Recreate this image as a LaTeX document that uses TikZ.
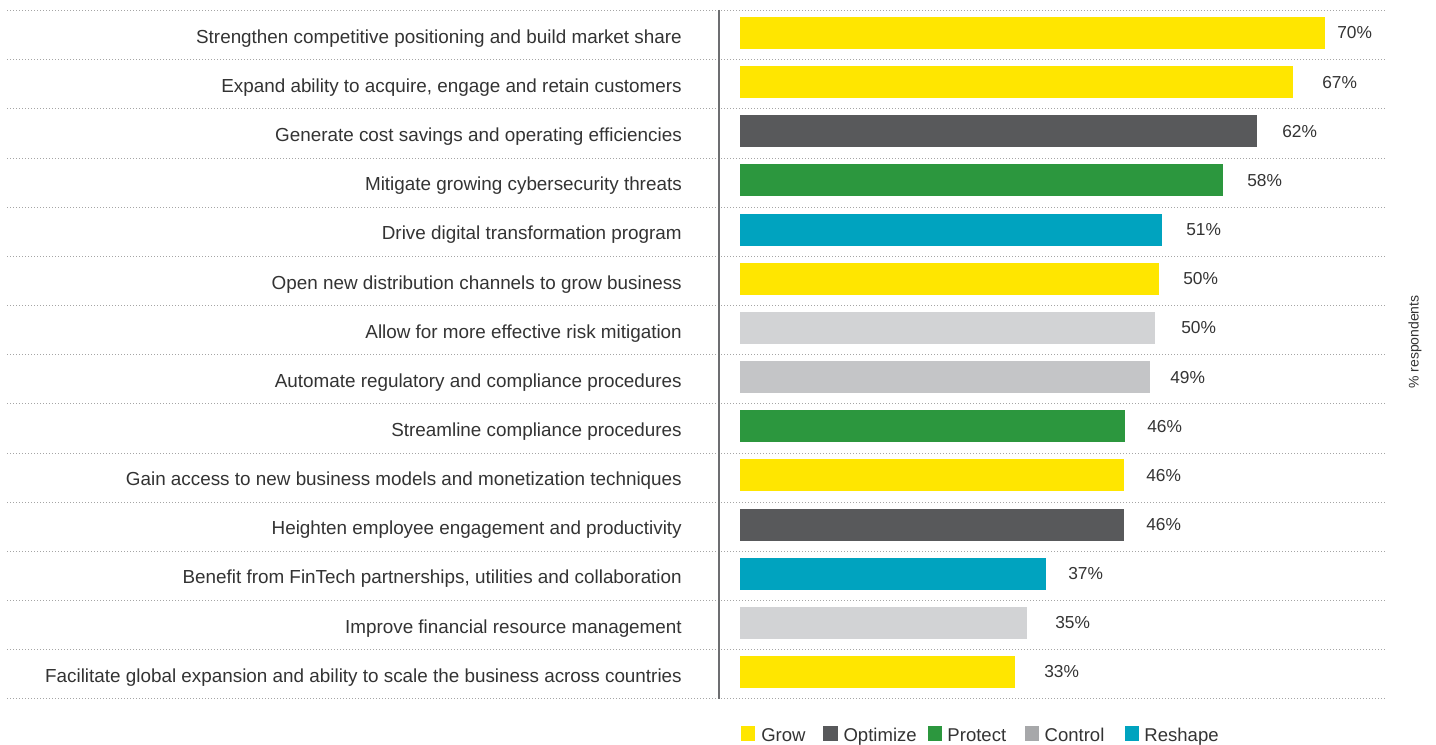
\documentclass[tikz,border=0pt]{standalone}
\usepackage{fontspec}
\setmainfont{Liberation Sans}
\usepackage{tikz}
\usetikzlibrary{calc}

\definecolor{eyyellow}{HTML}{FFE600}
\definecolor{eydark}{HTML}{58595B}
\definecolor{eygreen}{HTML}{2C973E}
\definecolor{eylight}{HTML}{D2D3D5}
\definecolor{eymid}{HTML}{C4C5C7}
\definecolor{eyswatch}{HTML}{A7A8AA}
\definecolor{eyteal}{HTML}{00A3BF}
\definecolor{eytext}{HTML}{333333}
\definecolor{eygrid}{HTML}{A5A5A5}
\definecolor{eyaxis}{HTML}{6D6E71}

\tikzset{
  rowlabel/.style={anchor=base east,inner sep=0pt,text=eytext,font=\fontsize{14.15}{17}\selectfont},
  pctlabel/.style={anchor=base west,inner sep=0pt,text=eytext,font=\fontsize{13}{16}\selectfont},
  leglabel/.style={anchor=base west,inner sep=0pt,text=eytext,font=\fontsize{13.9}{16}\selectfont},
  gridline/.style={draw=eygrid,line width=0.75pt,dash pattern=on 0.75pt off 1.5pt},
  axisline/.style={draw=eyaxis,line width=1.5pt}
}

\begin{document}
\begin{tikzpicture}[x=0.75pt,y=0.75pt,yscale=-1,xscale=1]
\useasboundingbox (0,0) rectangle (1436,745);

%Dotted grid lines
\foreach \k in {0,...,14}
  \draw [gridline] (7,10.7+49.15*\k) -- (1385,10.7+49.15*\k);

%Bars
\fill [eyyellow] (740,17) rectangle (1325,49);
\fill [eyyellow] (740,66.15) rectangle (1293,98.15);
\fill [eydark] (740,115.3) rectangle (1257,147.3);
\fill [eygreen] (740,164.45) rectangle (1223,196.45);
\fill [eyteal] (740,213.6) rectangle (1162,245.6);
\fill [eyyellow] (740,262.75) rectangle (1159,294.75);
\fill [eylight] (740,311.9) rectangle (1155,343.9);
\fill [eymid] (740,361.05) rectangle (1150,393.05);
\fill [eygreen] (740,410.2) rectangle (1125,442.2);
\fill [eyyellow] (740,459.35) rectangle (1124,491.35);
\fill [eydark] (740,508.5) rectangle (1124,540.5);
\fill [eyteal] (740,557.65) rectangle (1046,589.65);
\fill [eylight] (740,606.8) rectangle (1027,638.8);
\fill [eyyellow] (740,655.95) rectangle (1015,687.95);

%Axis line
\draw [axisline] (719,10) -- (719,699);

% Text Node: row labels
\node [rowlabel] (lbl1) at (682,43.3) {Strengthen competitive positioning and build market share};
\node [rowlabel] (lbl2) at (682,92.45) {Expand ability to acquire, engage and retain customers};
\node [rowlabel] (lbl3) at (682,141.6) {Generate cost savings and operating efficiencies};
\node [rowlabel] (lbl4) at (682,190.75) {Mitigate growing cybersecurity threats};
\node [rowlabel] (lbl5) at (682,239.9) {Drive digital transformation program};
\node [rowlabel] (lbl6) at (682,289.05) {Open new distribution channels to grow business};
\node [rowlabel] (lbl7) at (682,338.2) {Allow for more effective risk mitigation};
\node [rowlabel] (lbl8) at (682,387.35) {Automate regulatory and compliance procedures};
\node [rowlabel] (lbl9) at (682,436.5) {Streamline compliance procedures};
\node [rowlabel] (lbl10) at (682,485.65) {Gain access to new business models and monetization techniques};
\node [rowlabel] (lbl11) at (682,534.8) {Heighten employee engagement and productivity};
\node [rowlabel] (lbl12) at (682,583.95) {Benefit from FinTech partnerships, utilities and collaboration};
\node [rowlabel] (lbl13) at (682,633.1) {Improve financial resource management};
\node [rowlabel] (lbl14) at (682,682.25) {Facilitate global expansion and ability to scale the business across countries};

% Text Node: percentages
\node [pctlabel] (pct1) at (1337,39) {70\%};
\node [pctlabel] (pct2) at (1322,88.15) {67\%};
\node [pctlabel] (pct3) at (1282,137.3) {62\%};
\node [pctlabel] (pct4) at (1247,186.45) {58\%};
\node [pctlabel] (pct5) at (1186,235.6) {51\%};
\node [pctlabel] (pct6) at (1183,284.75) {50\%};
\node [pctlabel] (pct7) at (1181,333.9) {50\%};
\node [pctlabel] (pct8) at (1170,383.05) {49\%};
\node [pctlabel] (pct9) at (1147,432.2) {46\%};
\node [pctlabel] (pct10) at (1146,481.35) {46\%};
\node [pctlabel] (pct11) at (1146,530.5) {46\%};
\node [pctlabel] (pct12) at (1068,579.65) {37\%};
\node [pctlabel] (pct13) at (1055,628.8) {35\%};
\node [pctlabel] (pct14) at (1044,677.95) {33\%};

% Text Node: axis title
\node [rotate=90,inner sep=0pt,text=eytext,font=\fontsize{10.5}{12}\selectfont] (resp) at (1415,342) {\% respondents};

%Legend
\fill [eyyellow] (740.6,725.7) rectangle (755,741.2);
\node [leglabel] (leggrow) at (761,741) {Grow};
\fill [eydark] (823.3,725.7) rectangle (837.7,741.2);
\node [leglabel] (legopt) at (843.3,741) {Optimize};
\fill [eygreen] (928,725.7) rectangle (942.4,741.2);
\node [leglabel] (legprot) at (947.2,741) {Protect};
\fill [eyswatch] (1025.4,725.7) rectangle (1039.2,741.2);
\node [leglabel] (legctrl) at (1044.4,741) {Control};
\fill [eyteal] (1124.6,725.7) rectangle (1139,741.2);
\node [leglabel] (legresh) at (1144.2,741) {Reshape};
\end{tikzpicture}
\end{document}
